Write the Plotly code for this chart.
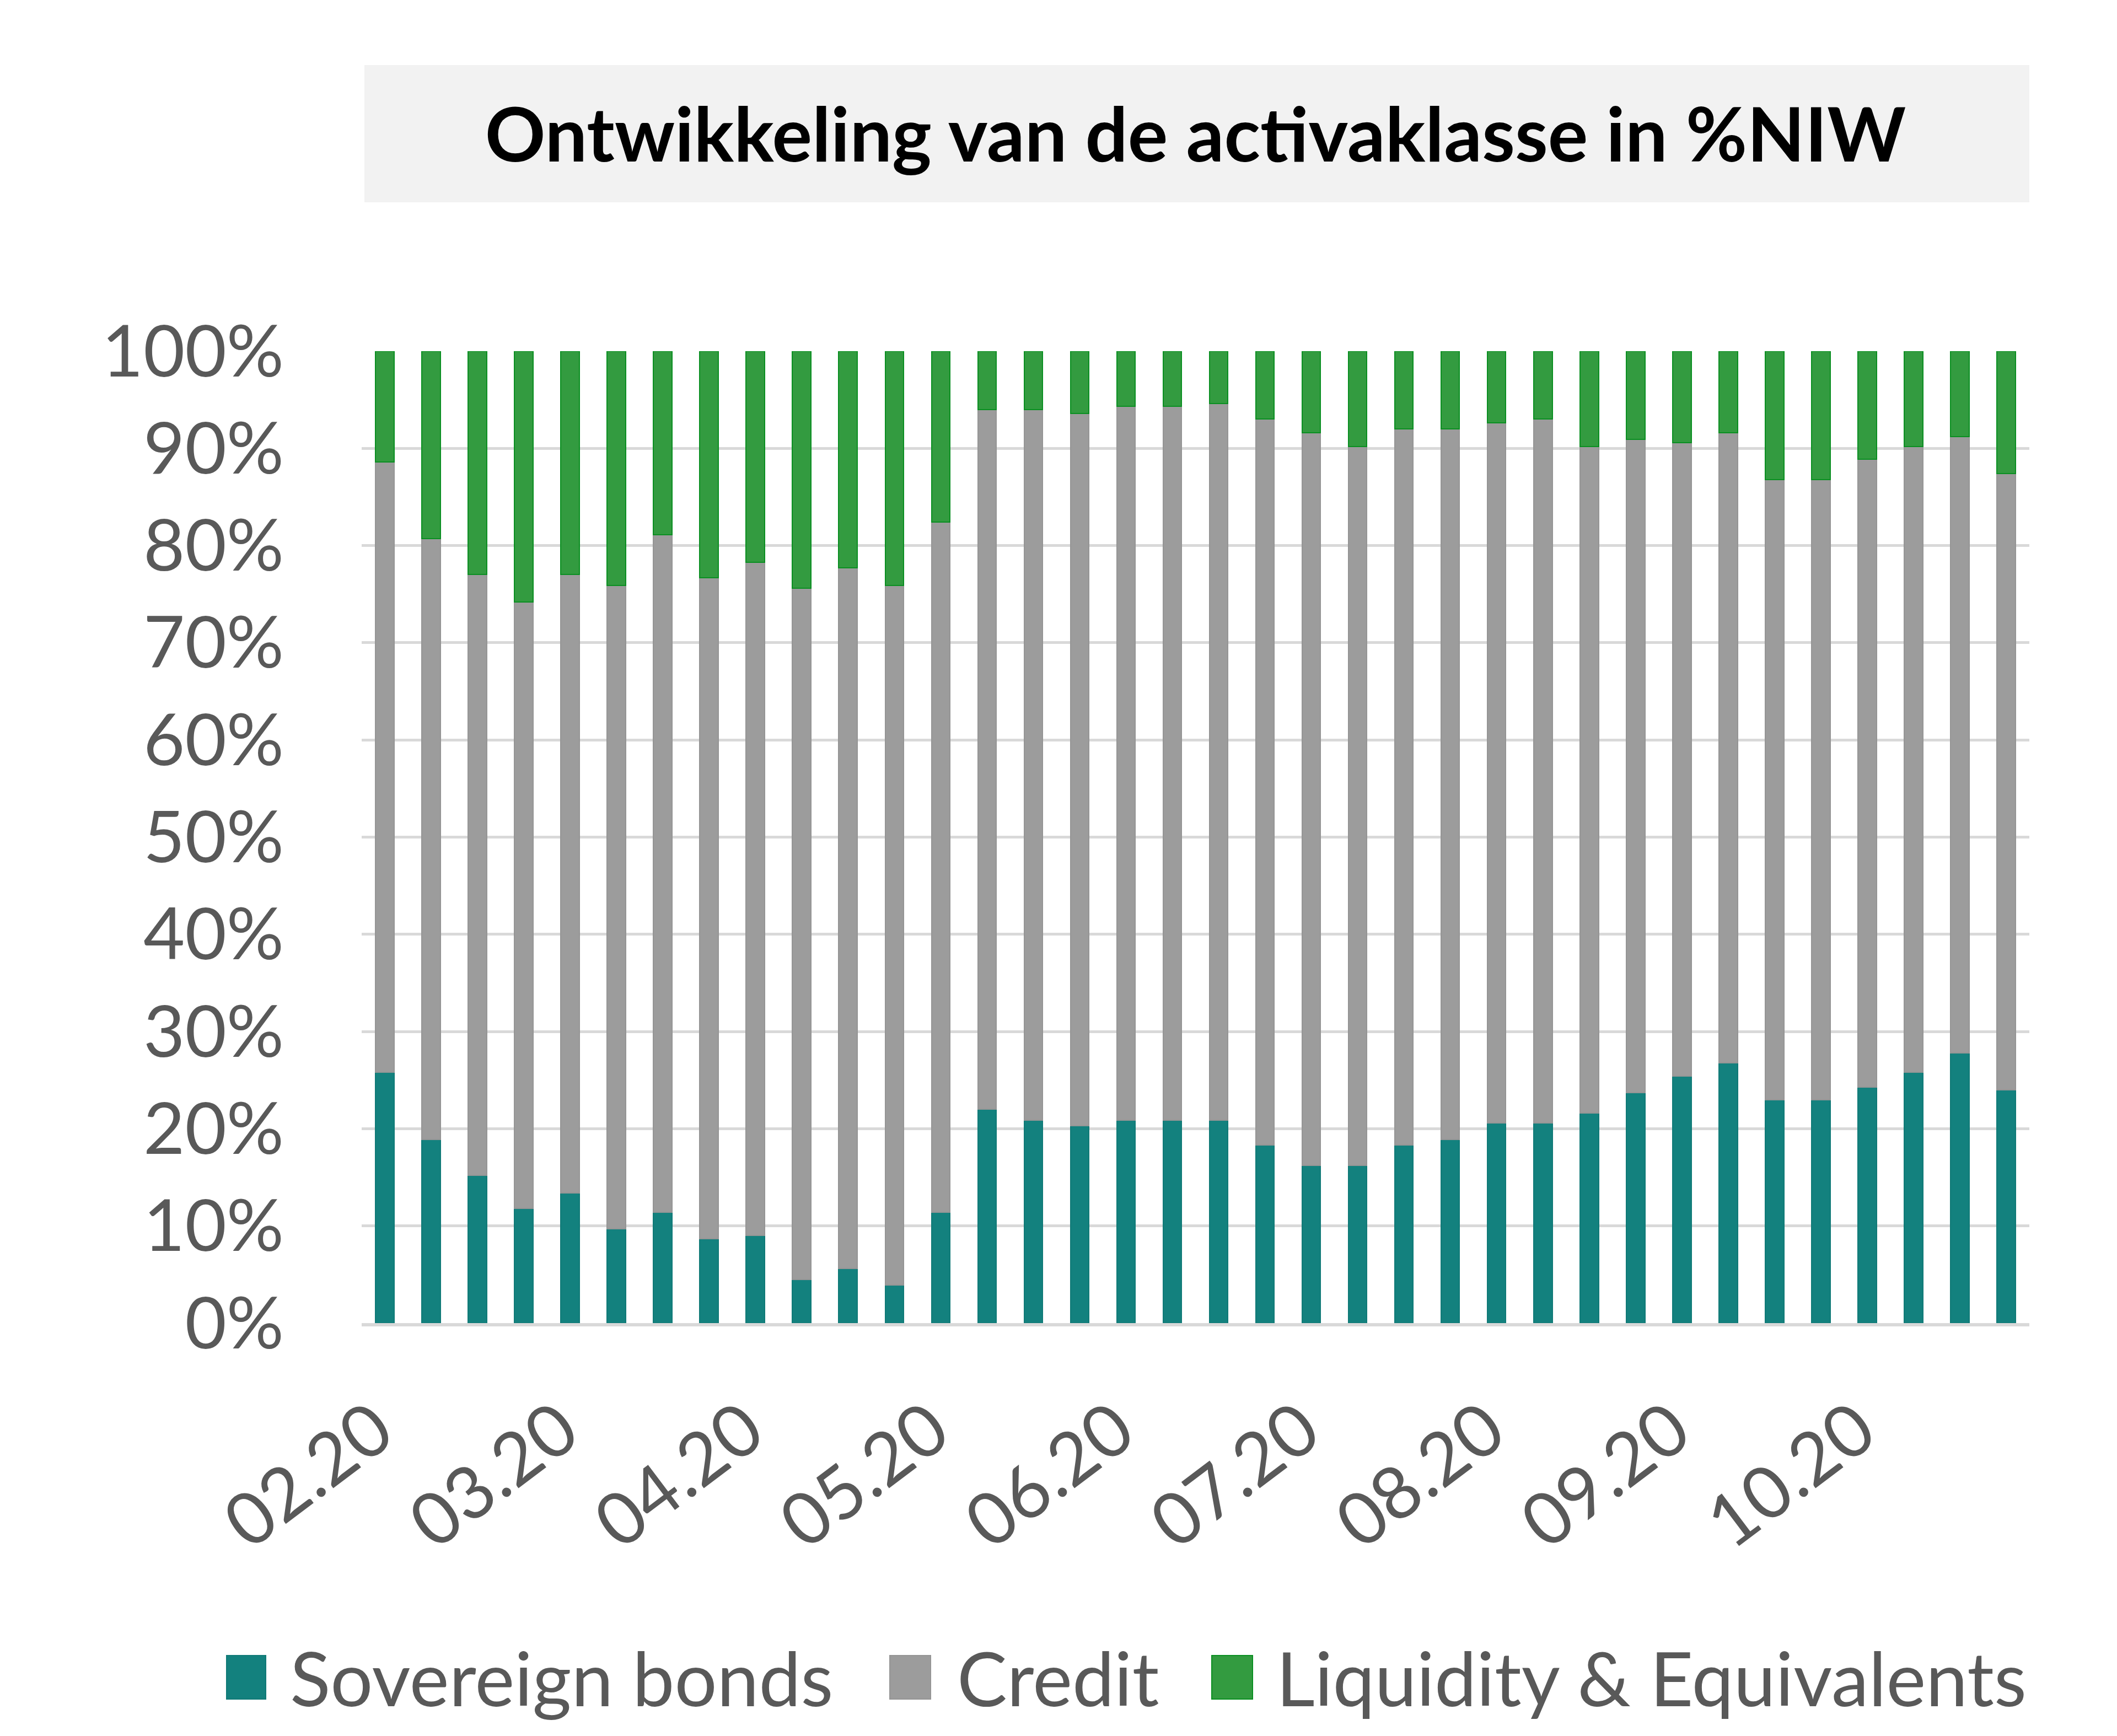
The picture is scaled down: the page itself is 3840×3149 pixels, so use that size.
import plotly.graph_objects as go

# ---- data ----
weeks = list(range(36))
tick_pos = [0, 4, 8, 12, 16, 20, 24, 28, 32]
tick_labels = ["02.20", "03.20", "04.20", "05.20", "06.20", "07.20", "08.20", "09.20", "10.20"]

sovereign = [25.8, 18.9, 15.2, 11.8, 13.4, 9.7, 11.4, 8.7, 9.0, 4.5, 5.6, 3.9,
             11.4, 22.0, 20.9, 20.3, 20.9, 20.9, 20.9, 18.3, 16.2, 16.2, 18.3, 18.9,
             20.6, 20.6, 21.6, 23.7, 25.4, 26.8, 23.0, 23.0, 24.3, 25.8, 27.8, 24.0]
credit = [62.8, 61.8, 61.8, 62.4, 63.6, 66.2, 69.7, 68.0, 69.3, 71.1, 72.1, 72.0,
          71.0, 72.0, 73.1, 73.3, 73.4, 73.4, 73.7, 74.7, 75.4, 74.0, 73.7, 73.1,
          72.0, 72.4, 68.6, 67.2, 65.2, 64.8, 63.8, 63.8, 64.6, 64.4, 63.4, 63.4]
liquidity = [11.4, 19.3, 23.0, 25.8, 23.0, 24.1, 18.9, 23.3, 21.7, 24.4, 22.3, 24.1,
             17.6, 6.0, 6.0, 6.4, 5.7, 5.7, 5.4, 7.0, 8.4, 9.8, 8.0, 8.0,
             7.4, 7.0, 9.8, 9.1, 9.4, 8.4, 13.2, 13.2, 11.1, 9.8, 8.8, 12.6]

series_names = ["Sovereign bonds", "Credit", "Liquidity & Equivalents"]
series_values = [sovereign, credit, liquidity]
fill_colors = ["#13817E", "#9C9C9C", "#339B40"]
line_colors = ["#107A77", "#959595", "#0B8F22"]

# ---- layout geometry (pixels, page coords; page has an 8px body margin) ----
OFF = 8
W, H = 3840, 3149
L, R, T, B = 656 - OFF, 3681 - OFF, 637 - OFF, 2400 - OFF
pw, ph = R - L, B - T


def px_x(p):
    return (p - OFF - L) / pw


def px_y(p):
    return (B - (p - OFF)) / ph


FONT = "Lato"
fig = go.Figure()
for name, vals, fc, lc in zip(series_names, series_values, fill_colors, line_colors):
    fig.add_trace(go.Bar(x=weeks, y=vals, name=name,
                         marker=dict(color=fc, line=dict(color=lc, width=2)),
                         showlegend=False))

# title box
fig.add_shape(type="rect", xref="paper", yref="paper",
              x0=px_x(661), x1=px_x(3681), y0=px_y(367), y1=px_y(118),
              fillcolor="#F2F2F2", line=dict(width=0), layer="below")

# custom legend
legend_items = [(411, 482, 524), (1614, 1688, 1734), (2198, 2272, 2313)]
for (x0, x1, tx), name, fc, lc in zip(legend_items, series_names, fill_colors, line_colors):
    fig.add_shape(type="rect", xref="paper", yref="paper",
                  x0=px_x(x0), x1=px_x(x1), y0=px_y(3082), y1=px_y(3003),
                  fillcolor=fc, line=dict(color=lc, width=2))
    fig.add_annotation(x=px_x(tx), y=px_y(3042), xref="paper", yref="paper",
                       text=name, showarrow=False, xanchor="left", yanchor="middle",
                       font=dict(family=FONT, size=136, color="#595959"))

fig.update_layout(
    width=W, height=H, autosize=False,
    margin=dict(l=L, r=W - R, t=T, b=H - B, pad=0),
    paper_bgcolor="white", plot_bgcolor="white",
    barmode="stack", bargap=0.6,
    title=dict(text="<b>Ontwikkeling van de activaklasse in %NIW</b>",
               x=0.5, xref="paper", xanchor="center",
               y=1 - (245 - OFF) / H, yref="container", yanchor="middle",
               font=dict(family=FONT, size=136, color="#000000")),
    xaxis=dict(range=[-0.5, 35.5], tickmode="array", tickvals=tick_pos, ticktext=tick_labels,
               tickangle=-37, tickfont=dict(family=FONT, size=132, color="#595959"),
               showgrid=False, showline=True, linecolor="#D9D9D9", linewidth=6,
               ticks="", zeroline=False, ticklabelstandoff=60, ticklabelshift=-16),
    yaxis=dict(range=[0, 100], dtick=10, ticksuffix="%",
               tickfont=dict(family=FONT, size=130, color="#595959"),
               showgrid=True, gridcolor="#D9D9D9", gridwidth=5,
               zeroline=False, showline=False, ticks="", ticklabelstandoff=140),
)

fig.write_html("out.html")
